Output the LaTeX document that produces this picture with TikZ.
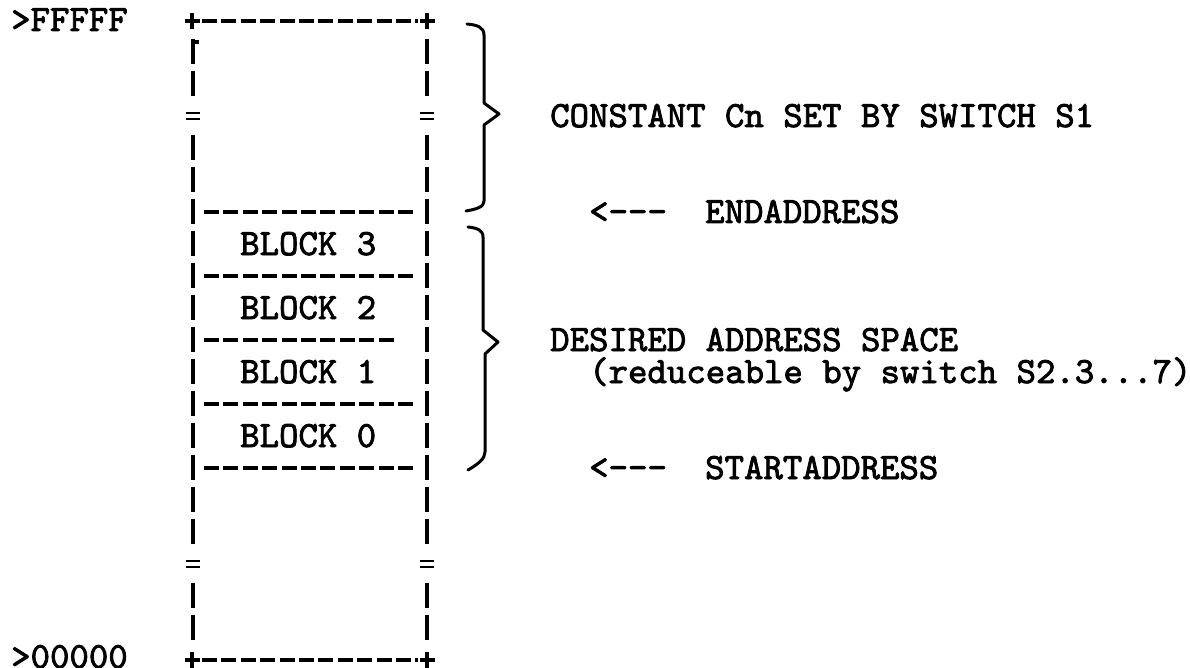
\documentclass[tikz,border=0pt]{standalone}
\usepackage{fontspec}
\newfontfamily\typew{lmmono10-regular}[Extension=.otf, FakeBold=2.2]
\begin{document}
\begin{tikzpicture}[x=1pt,y=-1pt,
  txt/.style={font=\typew\fontsize{37}{44}\selectfont, inner sep=0pt, anchor=base west},
  bar/.style={line width=3.2pt},
  dashln/.style={line width=3.3pt, dash pattern=on 15pt off 4.4pt},
  brace/.style={line width=3pt, line join=round, line cap=round}]
\useasboundingbox (0,0) rectangle (1190,668);
% address labels
\node[txt] (hi) at (11,31) {>FFFFF};
\node[txt] (lo) at (11,668) {>00000};
% top and bottom borders with plus corners
\draw[dashln] (202,21) -- (418,21);
\draw[dashln] (202,660) -- (418,660);
\foreach \yy in {21,660} {
  \draw[bar] (185,\yy) -- (200,\yy) (192,\yy-8) -- (192,\yy+8);
  \draw[bar] (420,\yy) -- (435,\yy) (427,\yy-8) -- (427,\yy+8);
}
% side bars
\foreach \k in {1,2,4,5,6,7,8,9,10,11,12,13,14,15,16,18,19} {
  \draw[bar] (193,20+32*\k-13) -- (193,20+32*\k+12);
  \draw[bar] (427,20+32*\k-13) -- (427,20+32*\k+12);
}
% odd mark at top left
\draw[bar] (193,42) -- (199,42);
% break marks
\foreach \k in {3,17} {
  \draw[line width=2.8pt] (186,20+32*\k-3) -- (200,20+32*\k-3) (186,20+32*\k+3) -- (200,20+32*\k+3);
  \draw[line width=2.8pt] (420,20+32*\k-3) -- (434,20+32*\k-3) (420,20+32*\k+3) -- (434,20+32*\k+3);
}
% dividers
\foreach \k in {6,8,12,14} {
  \draw[dashln] (204,20+32*\k) -- (417,20+32*\k);
}
\draw[dashln] (204,340) -- (397,340);
% blocks
\node[txt] (b3) at (240,255) {BLOCK 3};
\node[txt] (b2) at (240,319) {BLOCK 2};
\node[txt] (b1) at (240,383) {BLOCK 1};
\node[txt] (b0) at (240,447) {BLOCK 0};
% braces
\draw[brace] (467,24) .. controls (477,25) and (484,27) .. (484,35) -- (484,103) -- (499,114) -- (484,125) -- (484,201) .. controls (484,207) and (477,209) .. (466,211);
\draw[brace] (468,227) .. controls (477,228) and (483,230) .. (483,237) -- (483,330) -- (498,342) -- (485,354) -- (485,452) .. controls (485,459) and (478,464) .. (468,470);
% right texts
\node[txt] (cn) at (550,127) {CONSTANT Cn SET BY SWITCH S1};
\node[txt] (ea) at (589,223) {<-\kern0pt-\kern0pt-};
\node[txt] (ead) at (705,223) {ENDADDRESS};
\node[txt] (das) at (550,351) {DESIRED ADDRESS SPACE};
\node[txt] (red) at (589,383) {(reduceable by switch S2.3...7)};
\node[txt] (sa) at (589,479) {<-\kern0pt-\kern0pt-};
\node[txt] (sad) at (705,479) {STARTADDRESS};
\end{tikzpicture}
\end{document}
